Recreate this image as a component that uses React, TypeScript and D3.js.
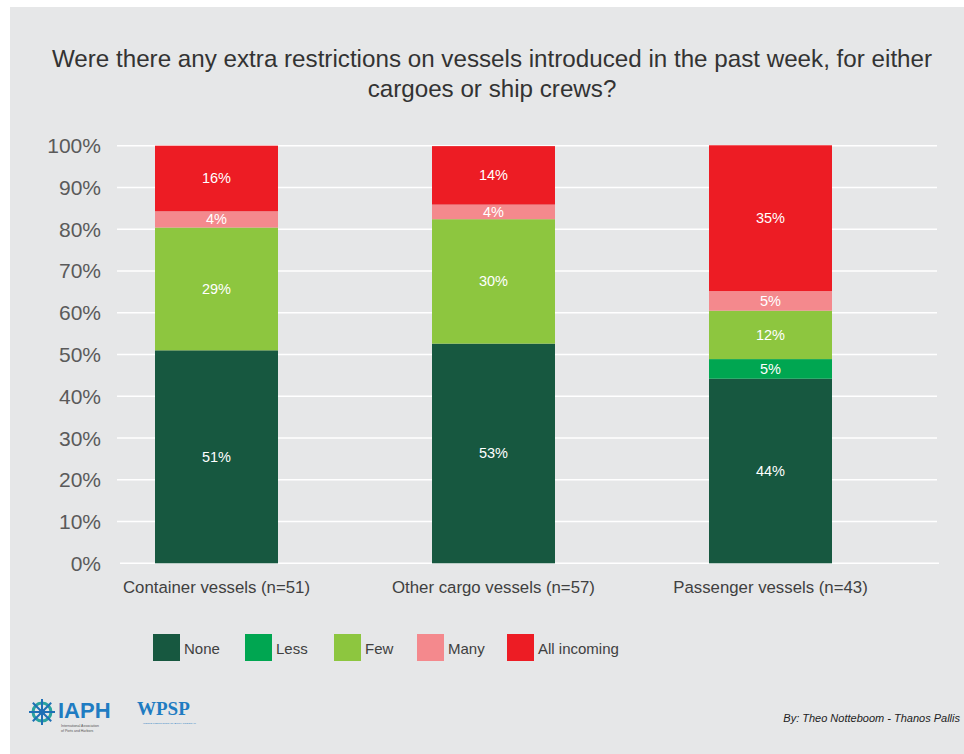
import React from "react";
import * as d3 from "d3";

const categories = ["Container vessels (n=51)", "Other cargo vessels (n=57)", "Passenger vessels (n=43)"];
const seriesNames = ["None", "Less", "Few", "Many", "All incoming"];
const seriesColors = ["#175840", "#00a651", "#8dc63f", "#f4898d", "#ed1c24"];
// percent shares per category, in series order
const noneValues = [51.0, 52.6, 44.2];
const lessValues = [0, 0, 4.7];
const fewValues = [29.4, 29.8, 11.6];
const manyValues = [3.9, 3.5, 4.7];
const allValues = [15.7, 14.0, 34.9];
const yTicks = [0, 10, 20, 30, 40, 50, 60, 70, 80, 90, 100];
const titleLines = [
  "Were there any extra restrictions on vessels introduced in the past week, for either",
  "cargoes or ship crews?",
];
const credit = "By: Theo Notteboom - Thanos Pallis";

const W = 964;
const H = 754;
const FONT = "'Liberation Sans', Arial, Helvetica, sans-serif";

export default function App() {
  const rows = categories.map((c, i) => ({
    cat: c,
    None: noneValues[i],
    Less: lessValues[i],
    Few: fewValues[i],
    Many: manyValues[i],
    "All incoming": allValues[i],
  }));
  const stack = d3.stack<any>().keys(seriesNames);
  const layers = stack(rows);

  const x = d3.scaleBand<string>().domain(categories).range([78, 909]).paddingInner(0.556).paddingOuter(0.278);
  const y = d3.scaleLinear().domain([0, 100]).range([563.3, 145.7]);

  const legendX = [153, 245, 334, 417, 507];

  return (
    <div style={{ position: "fixed", left: 0, top: 0, width: W, height: H, background: "#fff" }}>
      <svg width={W} height={H} style={{ display: "block", fontFamily: FONT }}>
        <rect x={10} y={7} width={W - 10} height={H - 7} fill="#e6e7e8" />
        {titleLines.map((t, i) => (
          <text key={i} x={492} y={67 + i * 30} textAnchor="middle" fontSize={24.2} fill="#333">
            {t}
          </text>
        ))}
        {yTicks.map((t) => (
          <g key={t}>
            <line
              x1={t === 0 ? 120 : 117}
              x2={t === 0 ? 939 : 937}
              y1={y(t)}
              y2={y(t)}
              stroke="#fff"
              strokeWidth={1.6}
            />
            <text x={101} y={y(t) + 7.5} textAnchor="end" fontSize={21} fill="#5a5a5a">
              {t}%
            </text>
          </g>
        ))}
        {layers.map((layer, li) => (
          <g key={layer.key}>
            {layer.map((d: any, ci: number) => {
              const v = d[1] - d[0];
              if (v <= 0) return null;
              const bx = x(categories[ci])!;
              const y0 = y(d[1]);
              const y1 = y(d[0]);
              return (
                <g key={ci}>
                  <rect x={bx} y={y0} width={x.bandwidth()} height={y1 - y0} fill={seriesColors[li]} />
                  <text
                    x={bx + x.bandwidth() / 2}
                    y={(y0 + y1) / 2 + 5}
                    textAnchor="middle"
                    fontSize={14.5}
                    fill="#fff"
                  >
                    {Math.round(v)}%
                  </text>
                </g>
              );
            })}
          </g>
        ))}
        {categories.map((c) => (
          <text key={c} x={x(c)! + x.bandwidth() / 2} y={593} textAnchor="middle" fontSize={16.8} fill="#404040">
            {c}
          </text>
        ))}
        {seriesNames.map((s, i) => (
          <g key={s}>
            <rect x={legendX[i]} y={634} width={27} height={27} fill={seriesColors[i]} />
            <text x={legendX[i] + 31} y={654} fontSize={15} fill="#404040">
              {s}
            </text>
          </g>
        ))}
        {/* IAPH logo */}
        <g transform="translate(42,712)">
          <circle r={9} fill="none" stroke="#2aa3a0" strokeWidth={3} />
          {d3.range(8).map((k) => {
            const a = (k * Math.PI) / 4;
            return (
              <line
                key={k}
                x1={0}
                y1={0}
                x2={Math.cos(a) * 13}
                y2={Math.sin(a) * 13}
                stroke="#1f6fb5"
                strokeWidth={2}
              />
            );
          })}
          <circle r={3} fill="#1f6fb5" />
        </g>
        <text x={58} y={718} fontSize={22} fontWeight="bold" fill="#1f7cc2" fontFamily={FONT}>
          IAPH
        </text>
        <text x={61} y={727} fontSize={3.5} fill="#555">International Association</text>
        <text x={61} y={731.5} fontSize={3.5} fill="#555">of Ports and Harbors</text>
        <text x={137} y={715} fontSize={19} fontWeight="bold" fill="#1f7cc2" fontFamily="'Liberation Serif', serif">
          WPSP
        </text>
        <text x={143} y={724} fontSize={2.5} fill="#1f7cc2">WORLD PORTS SUSTAINABILITY PROGRAM</text>
        <text x={960} y={722} textAnchor="end" fontSize={11} fontStyle="italic" fill="#222">
          {credit}
        </text>
      </svg>
    </div>
  );
}
